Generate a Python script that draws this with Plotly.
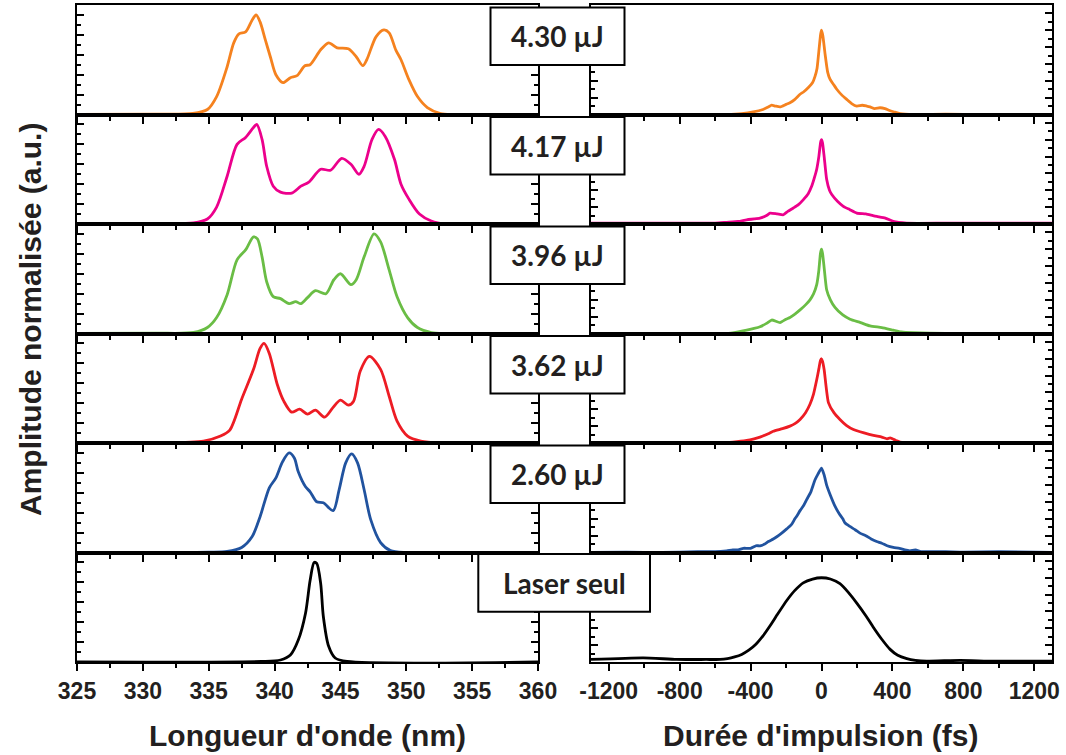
import plotly.graph_objects as go

# ---------------- data ----------------
labels = ["4.30 µJ", "4.17 µJ", "3.96 µJ", "3.62 µJ", "2.60 µJ", "Laser seul"]
colors = ["#F5821F", "#EC008C", "#6ABD45", "#ED1C24", "#21539F", "#000000"]

# Spectra: wavelength (nm) / normalised amplitude
wl_430 = [325, 331, 333.8, 334.9, 335.6, 336.4, 336.9, 337.3, 337.8, 338.3, 338.6, 338.9, 339.3, 339.7, 340.1,
          340.65, 341.2, 341.7, 342.3, 342.7, 343.5, 344.1, 344.75, 345.6, 346.2, 346.7, 347.0, 347.7, 348.3,
          348.7, 349.2, 349.6, 350.2, 350.85, 351.6, 352.6, 353.6, 360]
amp_430 = [0, 0.003, 0.01, 0.05, 0.18, 0.48, 0.72, 0.81, 0.83, 0.95, 1.0, 0.93, 0.75, 0.57, 0.40,
           0.32, 0.37, 0.39, 0.49, 0.50, 0.65, 0.72, 0.67, 0.66, 0.58, 0.49, 0.55, 0.78, 0.85,
           0.82, 0.65, 0.55, 0.35, 0.18, 0.07, 0.01, 0, 0]

wl_417 = [325, 331, 333.85, 334.9, 335.6, 336.4, 337.15, 337.8, 338.4, 338.65, 339.05, 339.4, 339.9, 340.45,
          341.3, 342.0, 342.6, 343.5, 344.25, 345.1, 345.8, 346.4, 346.8, 347.4, 347.9, 348.4, 349.1, 349.6,
          350.2, 351.0, 351.9, 353, 360]
amp_417 = [0, 0.003, 0.01, 0.05, 0.17, 0.48, 0.80, 0.87, 0.97, 1.0, 0.85, 0.58, 0.38, 0.32,
           0.31, 0.38, 0.42, 0.55, 0.54, 0.66, 0.60, 0.50, 0.58, 0.85, 0.95, 0.88, 0.65, 0.40,
           0.25, 0.10, 0.03, 0, 0]

wl_396 = [325, 331, 333.85, 334.9, 335.6, 336.4, 337.15, 337.8, 338.4, 338.7, 339.05, 339.4, 339.9, 340.45,
          341.1, 341.6, 342.0, 342.5, 343.1, 343.9, 344.5, 345.0, 345.8, 346.2, 346.8, 347.55, 348.05,
          348.7, 349.3, 350.1, 350.85, 351.9, 353, 360]
amp_396 = [0, 0.003, 0.01, 0.06, 0.16, 0.39, 0.74, 0.84, 0.97, 0.95, 0.77, 0.52, 0.37, 0.35,
           0.30, 0.32, 0.30, 0.36, 0.43, 0.40, 0.54, 0.60, 0.49, 0.54, 0.77, 1.0, 0.92,
           0.64, 0.37, 0.16, 0.06, 0.01, 0, 0]

wl_362 = [325, 331, 334.6, 335.9, 336.6, 337.5, 338.4, 338.9, 339.2, 339.6, 340.2, 340.7, 341.3, 341.9,
          342.5, 343.1, 343.8, 344.4, 345.0, 345.6, 346.0, 346.5, 347.2, 348.05, 348.7, 349.3, 350.1,
          351.1, 352.5, 360]
amp_362 = [0, 0.003, 0.02, 0.07, 0.13, 0.44, 0.74, 0.95, 1.0, 0.90, 0.59, 0.42, 0.31, 0.34,
           0.29, 0.33, 0.26, 0.35, 0.43, 0.38, 0.42, 0.72, 0.87, 0.74, 0.47, 0.22, 0.07,
           0.02, 0, 0]

wl_260 = [325, 335, 336.4, 337.5, 338.3, 338.9, 339.6, 340.1, 340.6, 341.1, 341.5, 341.8, 342.35, 342.7,
          343.2, 343.7, 344.45, 344.9, 345.4, 345.85, 346.3, 346.8, 347.3, 348.05, 348.8, 350, 360]
amp_260 = [0, 0.003, 0.01, 0.05, 0.16, 0.36, 0.65, 0.75, 0.91, 1.0, 0.95, 0.81, 0.66, 0.61,
           0.51, 0.50, 0.42, 0.63, 0.90, 0.99, 0.90, 0.63, 0.33, 0.10, 0.02, 0, 0]

wl_laser = [325, 339, 340.45, 341.2, 341.8, 342.35, 342.7, 343.0, 343.2, 343.5, 343.7, 344.1, 344.6, 345.5, 360]
amp_laser = [0, 0.005, 0.02, 0.07, 0.22, 0.49, 0.82, 1.0, 0.99, 0.79, 0.46, 0.16, 0.04, 0.005, 0]

# Autocorrelation traces: delay (fs) / normalised amplitude
t_430 = [-1300, -900, -700, -535, -450, -385, -330, -300, -281, -260, -234, -200, -178, -150, -121, -100,
         -74, -50, -37, -25, -15, -5, 0, 8, 20, 35, 48, 70, 86, 115, 142, 170, 199, 230, 255, 274, 300,
         330, 358, 380, 410, 443, 520, 700, 900, 1300]
v_430 = [0, 0, 0, 0, 0.01, 0.03, 0.06, 0.09, 0.11, 0.10, 0.09, 0.12, 0.14, 0.18, 0.24, 0.27,
         0.32, 0.38, 0.45, 0.55, 0.75, 0.95, 1.0, 0.93, 0.72, 0.50, 0.42, 0.35, 0.30, 0.23, 0.18, 0.13, 0.10,
         0.11, 0.10, 0.09, 0.07, 0.08, 0.07, 0.05, 0.03, 0.01, 0, 0.005, 0, 0]

t_417 = [-1300, -1000, -800, -600, -535, -470, -422, -380, -347, -310, -290, -250, -215, -190, -159,
         -130, -102, -75, -55, -40, -27, -15, -5, 0, 6, 15, 29, 45, 58, 90, 123, 160, 199, 250, 290, 312,
         360, 405, 480, 700, 1000, 1300]
v_417 = [0.01, 0.01, 0.01, 0.01, 0.02, 0.03, 0.05, 0.06, 0.07, 0.10, 0.13, 0.12, 0.11, 0.15, 0.19,
         0.23, 0.29, 0.36, 0.45, 0.55, 0.65, 0.80, 0.97, 1.0, 0.96, 0.80, 0.53, 0.40, 0.35, 0.27, 0.21,
         0.17, 0.13, 0.12, 0.10, 0.09, 0.07, 0.03, 0.01, 0.01, 0.01, 0.01]

t_396 = [-1300, -900, -600, -535, -470, -422, -380, -347, -310, -281, -234, -200, -178, -150, -121,
         -90, -65, -45, -27, -15, -6, 0, 6, 15, 29, 50, 76, 120, 161, 220, 274, 340, 405, 450, 518, 700,
         1000, 1300]
v_396 = [0, 0, 0, 0, 0.02, 0.04, 0.06, 0.08, 0.12, 0.16, 0.13, 0.17, 0.19, 0.23, 0.28,
         0.34, 0.40, 0.47, 0.58, 0.75, 0.95, 1.0, 0.95, 0.78, 0.52, 0.40, 0.31, 0.22, 0.17, 0.13, 0.09,
         0.07, 0.04, 0.02, 0.01, 0, 0, 0]

t_362 = [-1300, -800, -572, -500, -422, -380, -347, -300, -272, -220, -178, -150, -121, -90, -65, -45,
         -27, -15, -6, 0, 6, 15, 39, 70, 104, 140, 180, 240, 293, 340, 370, 387, 420, 443, 520, 700,
         1000, 1300]
v_362 = [0, 0, 0, 0.01, 0.03, 0.05, 0.07, 0.11, 0.14, 0.17, 0.20, 0.23, 0.28, 0.36, 0.46, 0.58,
         0.75, 0.88, 0.98, 1.0, 0.97, 0.87, 0.48, 0.36, 0.28, 0.21, 0.16, 0.12, 0.09, 0.07, 0.05,
         0.06, 0.03, 0.01, 0, 0.005, 0, 0]

t_260 = [-1300, -1100, -900, -700, -600, -535, -500, -470, -441, -400, -370, -347, -320, -300, -272,
         -250, -230, -196, -170, -150, -140, -120, -100, -83, -60, -37, -20, 0, 15, 29, 50, 76, 100, 120,
         133, 160, 190, 217, 250, 280, 311, 340, 370, 405, 440, 470, 499, 530, 560, 600, 700, 800, 1000, 1300]
v_260 = [0, 0.005, 0, 0.01, 0.01, 0.02, 0.03, 0.03, 0.05, 0.05, 0.08, 0.08, 0.10, 0.13, 0.16,
         0.19, 0.22, 0.28, 0.33, 0.40, 0.43, 0.50, 0.56, 0.63, 0.72, 0.86, 0.93, 1.0, 0.92, 0.80, 0.68,
         0.55, 0.46, 0.40, 0.35, 0.31, 0.27, 0.23, 0.20, 0.16, 0.13, 0.11, 0.08, 0.06, 0.05, 0.03, 0.02,
         0.03, 0.01, 0.01, 0.01, 0.005, 0.01, 0]

t_laser = [-1300, -1005, -817, -650, -572, -530, -490, -450, -410, -370, -330, -290, -250, -196, -150,
           -103, -50, 0, 50, 104, 150, 199, 250, 293, 340, 387, 430, 481, 530, 593, 781, 969, 1300]
v_laser = [0.03, 0.05, 0.03, 0.03, 0.03, 0.04, 0.06, 0.09, 0.14, 0.21, 0.31, 0.43, 0.56, 0.73, 0.85,
           0.94, 0.985, 1.0, 0.985, 0.93, 0.83, 0.70, 0.55, 0.41, 0.27, 0.15, 0.08, 0.04, 0.02, 0.01,
           0.02, 0.01, 0.01]

spectra = [(wl_430, amp_430), (wl_417, amp_417), (wl_396, amp_396),
           (wl_362, amp_362), (wl_260, amp_260), (wl_laser, amp_laser)]
autocorr = [(t_430, v_430), (t_417, v_417), (t_396, v_396),
            (t_362, v_362), (t_260, v_260), (t_laser, v_laser)]

wl_ticks = [325, 330, 335, 340, 345, 350, 355, 360]
wl_ticktext = ["325", "330", "335", "340", "345", "350", "355", "360"]
t_ticks = [-1200, -800, -400, 0, 400, 800, 1200]
t_ticktext = ["-1200", "-800", "-400", "0", "400", "800", "1200"]

# ---------------- layout geometry ----------------
W, H = 1066, 755
L, R, T, B = 77, 14, 5, 93
PW, PH = W - L - R, H - T - B
ROW = PH / 6


def px2x(px):
    return (px - L) / PW


def py2y(py):
    return 1 - (py - T) / PH


TXT = "#231f20"
fig = go.Figure()
layout = {}

for i in range(6):
    il, ir = 2 * i + 1, 2 * i + 2
    xs, ys = spectra[i]
    ts, vs = autocorr[i]
    fig.add_trace(go.Scatter(x=xs, y=ys, mode="lines", xaxis=f"x{il}", yaxis=f"y{il}",
                             line=dict(color=colors[i], width=2.8, shape="spline", smoothing=0.8),
                             showlegend=False, hoverinfo="skip"))
    fig.add_trace(go.Scatter(x=ts, y=vs, mode="lines", xaxis=f"x{ir}", yaxis=f"y{ir}",
                             line=dict(color=colors[i], width=2.8, shape="spline", smoothing=0.5),
                             showlegend=False, hoverinfo="skip"))
    dom_y = [1 - (i + 1) / 6, 1 - i / 6]
    bottom = (i == 5)
    common = dict(showline=True, linewidth=2, linecolor="black", showgrid=False, zeroline=False,
                  tickwidth=2, tickcolor="black", fixedrange=True)
    tf = dict(family="Liberation Sans, Arial", size=23, color=TXT)
    layout[f"xaxis{il}"] = dict(common, domain=[0, px2x(538)], range=[325, 360], anchor=f"y{il}",
                                tickmode="array", tickvals=wl_ticks,
                                ticktext=[f"<b>{s}</b>" for s in wl_ticktext],
                                ticks="outside", ticklen=7,
                                minor=dict(dtick=2.5, tick0=325, ticks="outside", ticklen=4,
                                           tickwidth=2, tickcolor="black"),
                                mirror=True, showticklabels=bottom, tickfont=tf)
    layout[f"xaxis{ir}"] = dict(common, domain=[px2x(591), 1], range=[-1300, 1300], anchor=f"y{ir}",
                                tickmode="array", tickvals=t_ticks,
                                ticktext=[f"<b>{s}</b>" for s in t_ticktext],
                                ticks="outside", ticklen=7,
                                minor=dict(dtick=200, tick0=-1200, ticks="outside", ticklen=4,
                                           tickwidth=2, tickcolor="black"),
                                mirror=True, showticklabels=bottom, tickfont=tf)
    layout[f"yaxis{il}"] = dict(common, domain=dom_y, range=[0, 1.1], anchor=f"x{il}",
                                dtick=0.2, tick0=0, ticks="inside", ticklen=7, mirror="ticks",
                                minor=dict(dtick=0.1, ticks="inside", ticklen=4, tickwidth=2,
                                           tickcolor="black"),
                                showticklabels=False)
    layout[f"yaxis{ir}"] = dict(common, domain=dom_y, range=[0, 1.3], anchor=f"x{ir}",
                                dtick=0.2, tick0=0, ticks="inside", ticklen=7, mirror="ticks",
                                minor=dict(dtick=0.1, ticks="inside", ticklen=4, tickwidth=2,
                                           tickcolor="black"),
                                showticklabels=False)

# inward ticks along the top edge of the first row
layout["xaxis13"] = dict(overlaying="x", side="top", anchor="y", range=[325, 360], showline=False,
                         showgrid=False, zeroline=False, tickmode="array", tickvals=wl_ticks,
                         ticks="inside", ticklen=7, tickwidth=2, tickcolor="black", showticklabels=False,
                         minor=dict(dtick=2.5, tick0=325, ticks="inside", ticklen=4, tickwidth=2,
                                    tickcolor="black"))
layout["xaxis14"] = dict(overlaying="x2", side="top", anchor="y2", range=[-1300, 1300], showline=False,
                         showgrid=False, zeroline=False, tickmode="array", tickvals=t_ticks,
                         ticks="inside", ticklen=7, tickwidth=2, tickcolor="black", showticklabels=False,
                         minor=dict(dtick=200, tick0=-1200, ticks="inside", ticklen=4, tickwidth=2,
                                    tickcolor="black"))

shapes, annotations = [], []
for i, lab in enumerate(labels):
    if i < 5:
        x0, x1 = 490.5, 624.5
        y0 = T + i * ROW + 2.5
        y1 = y0 + 57.5
    else:
        x0, x1, y0, y1 = 478.3, 650, 554, 611.7
    shapes.append(dict(type="rect", xref="paper", yref="paper", x0=px2x(x0), x1=px2x(x1),
                       y0=py2y(y1), y1=py2y(y0), fillcolor="white",
                       line=dict(color="black", width=2), layer="above"))
    annotations.append(dict(xref="paper", yref="paper", x=px2x((x0 + x1) / 2), y=py2y((y0 + y1) / 2),
                            text=f"<b>{lab}</b>", showarrow=False, xanchor="center", yanchor="middle",
                            font=dict(family="Lato, Open Sans", size=28, color=TXT)))

title_font = dict(family="Liberation Sans, Arial", size=30, color=TXT)
annotations += [
    dict(xref="paper", yref="paper", x=px2x(307), y=py2y(735), text="<b>Longueur d'onde (nm)</b>",
         showarrow=False, xanchor="center", yanchor="middle", font=title_font),
    dict(xref="paper", yref="paper", x=px2x(820.5), y=py2y(735), text="<b>Durée d'impulsion (fs)</b>",
         showarrow=False, xanchor="center", yanchor="middle", font=title_font),
    dict(xref="paper", yref="paper", x=px2x(31), y=py2y(320), text="<b>Amplitude normalisée (a.u.)</b>",
         showarrow=False, xanchor="center", yanchor="middle", textangle=-90, font=title_font),
]

fig.update_layout(width=W, height=H, margin=dict(l=L, r=R, t=T, b=B, autoexpand=False),
                  paper_bgcolor="white", plot_bgcolor="white", shapes=shapes,
                  annotations=annotations, **layout)

fig.write_html("out.html", config={"displayModeBar": False},
               post_script="document.body.style.margin='0px';")
